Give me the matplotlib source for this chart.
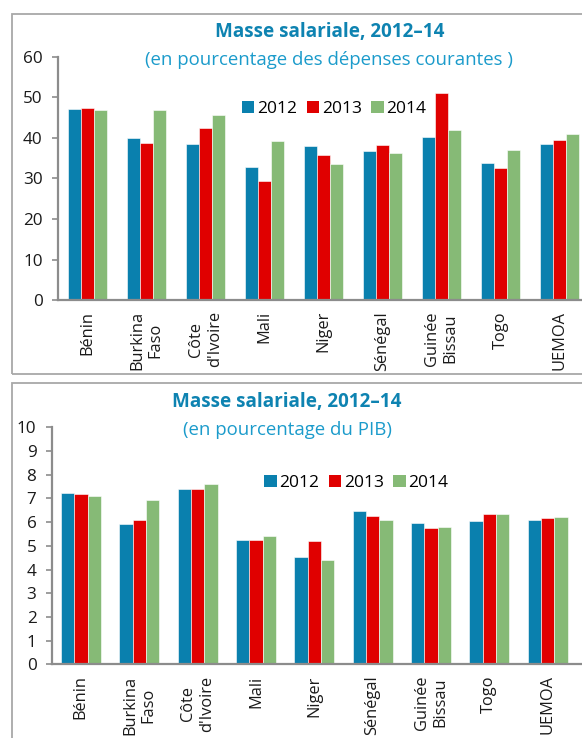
import matplotlib
matplotlib.use("Agg")
import matplotlib.pyplot as plt
import numpy as np
from matplotlib.patches import Rectangle, Patch

plt.rcParams['font.family'] = ['Open Sans', 'DejaVu Sans']

# data
countries = ["Bénin", "Burkina\nFaso", "Côte\nd'Ivoire", "Mali", "Niger",
             "Sénégal", "Guinée\nBissau", "Togo", "UEMOA"]
years = ["2012", "2013", "2014"]

depenses_2012 = [47.2, 39.9, 38.4, 32.8, 38.1, 36.7, 40.2, 33.9, 38.5]
depenses_2013 = [47.3, 38.8, 42.4, 29.3, 35.7, 38.2, 51.1, 32.5, 39.5]
depenses_2014 = [46.8, 46.8, 45.8, 39.2, 33.6, 36.3, 42.0, 37.0, 40.9]

pib_2012 = [7.23, 5.91, 7.41, 5.25, 4.53, 6.46, 5.98, 6.03, 6.09]
pib_2013 = [7.17, 6.09, 7.41, 5.25, 5.20, 6.27, 5.74, 6.34, 6.16]
pib_2014 = [7.10, 6.93, 7.59, 5.43, 4.40, 6.09, 5.79, 6.33, 6.22]

colors = ["#0A80AE", "#E00000", "#86BA76"]
title_color = "#0E83B1"
sub_color = "#1B9BCB"
axis_gray = "#8C8C8C"
frame_gray = "#A8A8A8"

W, H = 582, 738
fig = plt.figure(figsize=(W / 100, H / 100), dpi=100)


def px_axes(left, right, top, bottom):
    return fig.add_axes([left / W, 1 - bottom / H, (right - left) / W, (bottom - top) / H])


def frame(x0, y0, x1, y1):
    fig.patches.append(Rectangle((x0 / W, 1 - y1 / H), (x1 - x0) / W, (y1 - y0) / H,
                                 transform=fig.transFigure, fill=False,
                                 edgecolor=frame_gray, linewidth=1.3))


def draw_panel(ax, series, ymax, step, width, xmax, leg_pos):
    x = np.arange(len(countries))
    for i, (vals, c) in enumerate(zip(series, colors)):
        ax.bar(x + (i - 1) * width, vals, width, color=c, edgecolor="white",
               linewidth=0.4, zorder=2)
    ax.set_xlim(-0.5, xmax)
    ax.set_ylim(0, ymax)
    ax.set_yticks(np.arange(0, ymax + step / 2, step))
    ax.set_xticks(x)
    ax.set_xticklabels(countries, rotation=90, ha="center", va="top",
                       multialignment="center", fontsize=11.8, color="#1a1a1a")
    ax.tick_params(axis="x", length=0, pad=8)
    ax.tick_params(axis="y", length=4, width=1.2, color=axis_gray, pad=7,
                   labelsize=12.3, labelcolor="#1a1a1a")
    for s in ["top", "right"]:
        ax.spines[s].set_visible(False)
    for s in ["left", "bottom"]:
        ax.spines[s].set_color(axis_gray)
        ax.spines[s].set_linewidth(1.6)
    handles = [Patch(facecolor=c, edgecolor="none") for c in colors]
    ax.legend(handles, years, ncol=3, frameon=False, loc="center",
              bbox_to_anchor=leg_pos, fontsize=12.5, handlelength=0.72,
              handleheight=0.72, handletextpad=0.15, columnspacing=0.55)


# top panel: percentage of current expenditure
frame(12, 14, 640, 374)
ax1 = px_axes(58, 589, 57, 300)
draw_panel(ax1, [depenses_2012, depenses_2013, depenses_2014], 60, 10, 0.217, 8.5,
           (0.52, 0.786))
fig.text(330 / W, 1 - 32 / H, "Masse salariale, 2012\u201314", ha="center", va="center",
         fontsize=13.6, fontweight="bold", color=title_color)
fig.text(329 / W, 1 - 60 / H, "(en pourcentage des dépenses courantes )", ha="center",
         va="center", fontsize=13.4, color=sub_color)

# bottom panel: percentage of GDP
frame(12, 383, 640, 760)
ax2 = px_axes(51.7, 585, 427.3, 664.3)
draw_panel(ax2, [pib_2012, pib_2013, pib_2014], 10, 1, 0.228, 8.64,
           (0.571, 0.765))
fig.text(287 / W, 1 - 401.7 / H, "Masse salariale, 2012\u201314", ha="center", va="center",
         fontsize=13.6, fontweight="bold", color=title_color)
fig.text(287 / W, 1 - 430 / H, "(en pourcentage du PIB)", ha="center", va="center",
         fontsize=13.4, color=sub_color)

fig.savefig("out.png", dpi=100)
